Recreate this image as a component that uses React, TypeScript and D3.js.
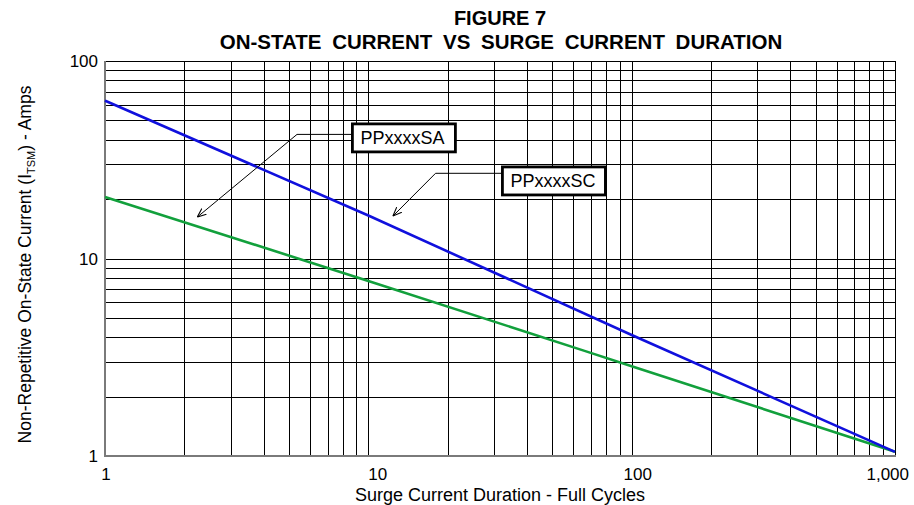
import React from 'react';
import * as d3 from 'd3';

const cycles = [1, 10, 100, 1000];
const seriesSA = [20.5, 7.7, 2.85, 1.05];
const seriesSC = [63, 16.5, 4.1, 1.05];
const seriesNames = ['PPxxxxSA', 'PPxxxxSC'];
const xTicks = [1, 10, 100, 1000];
const xTickLabels = ['1', '10', '100', '1,000'];
const yTicks = [1, 10, 100];
const yTickLabels = ['1', '10', '100'];
const titleLines = ['FIGURE 7', 'ON-STATE CURRENT VS SURGE CURRENT DURATION'];
const xTitle = 'Surge Current Duration - Full Cycles';

// annotation anchors in data coordinates: [cycles, amps]
const annBox = [[8.7, 40.8], [32.3, 24.7]];
const annElbow = [[5.36, 42.5], [18.0, 27.0]];
const annTip = [[2.24, 16.2], [12.4, 16.4]];

const W = 914, H = 505;
const M = { left: 105, right: 895, top: 61, bottom: 456 };
const FONT = '"Liberation Sans", Arial, Helvetica, sans-serif';

export default function App() {
  const x = d3.scaleLog().domain([1, 1000]).range([M.left, M.right]);
  const y = d3.scaleLog().domain([1, 100]).range([M.bottom, M.top]);

  const gridX: number[] = [];
  const gridY: number[] = [];
  for (const d of [1, 10, 100]) for (let k = 1; k <= 9; k++) gridX.push(d * k);
  gridX.push(1000);
  for (const d of [1, 10]) for (let k = 1; k <= 9; k++) gridY.push(d * k);
  gridY.push(100);

  const line = d3.line<number>().x((_, i) => x(cycles[i])).y((d) => y(d)).curve(d3.curveMonotoneX);
  const series = [
    { name: seriesNames[0], values: seriesSA, color: '#12a03c' },
    { name: seriesNames[1], values: seriesSC, color: '#1010dd' },
  ];

  const boxW = 103, boxH = 28;
  const xLabelAnchor = ['middle', 'start', 'middle', 'end'];
  const xLabelDx = [1, 0, 6, 14];

  return (
    <svg width={W} height={H} style={{ position: 'absolute', left: 0, top: 0, background: '#fff' }} fontFamily={FONT}>
      <defs>
        <marker id="arr" viewBox="0 0 10 10" refX="10" refY="5" markerWidth="9" markerHeight="9" orient="auto-start-reverse" markerUnits="userSpaceOnUse">
          <path d="M0,1 L10,5 L0,9" fill="none" stroke="#000" strokeWidth={1.2} />
        </marker>
      </defs>
      <rect width={W} height={H} fill="#fff" />
      <text x={500} y={25} textAnchor="middle" fontWeight="bold" fontSize={20}>{titleLines[0]}</text>
      <text x={501} y={49} textAnchor="middle" fontWeight="bold" fontSize={20.5} wordSpacing={5}>{titleLines[1]}</text>

      <g shapeRendering="crispEdges">
        {gridX.map((v) => (
          <line key={'gx' + v} x1={Math.round(x(v)) + 0.5} x2={Math.round(x(v)) + 0.5} y1={M.top} y2={M.bottom} stroke="#000" strokeWidth={1} />
        ))}
        {gridY.map((v) => (
          <line key={'gy' + v} y1={Math.round(y(v)) + 0.5} y2={Math.round(y(v)) + 0.5} x1={M.left} x2={M.right} stroke="#000" strokeWidth={1} />
        ))}
        <line x1={M.left} x2={M.left} y1={M.top} y2={M.bottom + 1} stroke="#7a7a7a" strokeWidth={2} />
        <line x1={M.left} x2={M.right + 1} y1={M.bottom} y2={M.bottom} stroke="#7a7a7a" strokeWidth={2} />
      </g>

      {series.map((s) => (
        <path key={s.name} d={line(s.values) || ''} fill="none" stroke={s.color} strokeWidth={2.6} />
      ))}

      {annBox.map((b, i) => {
        const bx = x(b[0]);
        const by = y(b[1]);
        const ey = y(annElbow[i][1]);
        const ex = x(annElbow[i][0]);
        const tx = x(annTip[i][0]);
        const ty = y(annTip[i][1]);
        return (
          <g key={'ann' + i}>
            <path d={`M${bx},${ey} L${ex},${ey} L${tx},${ty}`} fill="none" stroke="#000" strokeWidth={1} markerEnd="url(#arr)" />
            <rect x={bx} y={by - boxH / 2} width={boxW} height={boxH} fill="#fff" stroke="#000" strokeWidth={2.8} />
            <text x={bx + 8} y={by + 6.5} fontSize={18}>{seriesNames[i]}</text>
          </g>
        );
      })}

      {yTicks.map((v, i) => (
        <text key={'yt' + v} x={98} y={y(v) + 6} textAnchor="end" fontSize={17}>{yTickLabels[i]}</text>
      ))}
      {xTicks.map((v, i) => (
        <text key={'xt' + v} x={x(v) + xLabelDx[i]} y={480} textAnchor={xLabelAnchor[i]} fontSize={17}>{xTickLabels[i]}</text>
      ))}
      <text x={500} y={501} textAnchor="middle" fontSize={18}>{xTitle}</text>
      <text transform={`translate(31,${(M.top + M.bottom) / 2 + 6}) rotate(-90)`} textAnchor="middle" fontSize={17.5}>
        Non-Repetitive On-State Current (I
        <tspan fontSize={11} dy={4}>TSM</tspan>
        <tspan dy={-4}>) - Amps</tspan>
      </text>
    </svg>
  );
}
